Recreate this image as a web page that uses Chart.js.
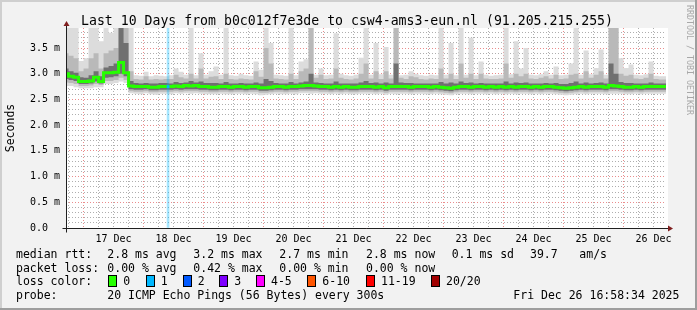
<!DOCTYPE html>
<html>
<head>
<meta charset="utf-8">
<script src="https://cdn.jsdelivr.net/npm/chart.js@4.4.1/dist/chart.umd.min.js"></script>
<style>
html,body{margin:0;padding:0;background:#f2f2f2;}
canvas{display:block;}
</style>
</head>
<body>
<canvas id="c" width="697" height="310"></canvas>
<script>
// ---------- DATA ----------
// time axis in hours since Dec 16 00:00
const T_START = 16.976;   // Dec 16 16:58:34
const T_END = 256.976;    // Dec 26 16:58:34
const SAMPLE_START = 17;  // first sample (hours)
const SAMPLE_STEP = 2;    // hours between samples
const Y_MAX = 3.89;       // ms

const dayLabels = ['17 Dec','18 Dec','19 Dec','20 Dec','21 Dec','22 Dec','23 Dec','24 Dec','25 Dec','26 Dec'];
const dayNoonHours = [36,60,84,108,132,156,180,204,228,252];
const yLabels = ['0.0  ','0.5 m','1.0 m','1.5 m','2.0 m','2.5 m','3.0 m','3.5 m'];

// median rtt (ms)
const medianRtt = [3.00,2.95,2.93,2.85,2.85,2.86,2.93,2.85,3.02,3.02,3.03,3.22,3.02,2.76,2.75,2.75,2.75,2.74,2.74,2.75,2.75,2.75,2.76,2.75,2.77,2.76,2.77,2.75,2.75,2.74,
 2.74,2.75,2.75,2.74,2.75,2.75,2.74,2.75,2.75,2.73,2.73,2.74,2.75,2.75,2.74,2.75,2.75,2.76,2.77,2.77,2.76,2.75,2.75,2.74,2.75,2.74,2.75,2.74,2.74,2.75,
 2.75,2.75,2.74,2.75,2.73,2.75,2.75,2.75,2.75,2.74,2.75,2.75,2.75,2.74,2.75,2.74,2.73,2.72,2.74,2.75,2.75,2.74,2.75,2.75,2.74,2.75,2.74,2.75,2.74,2.75,
 2.74,2.75,2.75,2.74,2.75,2.74,2.75,2.75,2.74,2.73,2.72,2.73,2.74,2.75,2.74,2.75,2.75,2.75,2.74,2.77,2.76,2.75,2.74,2.74,2.75,2.74,2.75,2.75,2.75,2.75,2.75];

// smoke: distribution of the 20 pings per sample (ms)
const pingMin = [2.76,2.76,2.74,2.72,2.72,2.72,2.74,2.74,2.80,2.80,2.82,2.85,2.82,2.62,
 2.61,2.60,2.62,2.60,2.59,2.61,2.61,2.60,2.62,2.61,2.62,2.61,2.62,2.61,2.60,2.60,
 2.60,2.61,2.60,2.60,2.61,2.61,2.60,2.61,2.60,2.58,2.59,2.60,2.61,2.60,2.60,2.61,2.60,2.62,2.62,2.61,2.62,2.61,2.61,2.60,2.61,2.60,2.61,2.60,2.60,2.61,
 2.61,2.61,2.60,2.61,2.59,2.61,2.60,2.61,2.61,2.60,2.61,2.61,2.60,2.60,2.61,2.60,2.59,2.58,2.60,2.61,2.61,2.60,2.61,2.61,2.60,2.61,2.60,2.61,2.60,2.61,
 2.60,2.61,2.61,2.60,2.61,2.60,2.61,2.61,2.60,2.59,2.58,2.59,2.60,2.61,2.60,2.61,2.61,2.61,2.60,2.61,2.61,2.61,2.60,2.60,2.61,2.60,2.61,2.61,2.61,2.61,2.61];
const ping10 = [2.83,2.82,2.80,2.76,2.76,2.77,2.80,2.78,2.86,2.86,2.88,2.92,2.88,2.66,
 2.65,2.65,2.66,2.64,2.64,2.65,2.65,2.65,2.66,2.65,2.66,2.66,2.66,2.65,2.65,2.64,
 2.64,2.65,2.65,2.64,2.65,2.65,2.64,2.65,2.65,2.63,2.63,2.64,2.65,2.65,2.64,2.65,2.65,2.66,2.66,2.66,2.66,2.65,2.65,2.64,2.65,2.64,2.65,2.64,2.64,2.65,
 2.65,2.65,2.64,2.65,2.63,2.65,2.65,2.65,2.65,2.64,2.65,2.65,2.65,2.64,2.65,2.64,2.63,2.62,2.64,2.65,2.65,2.64,2.65,2.65,2.64,2.65,2.64,2.65,2.64,2.65,
 2.64,2.65,2.65,2.64,2.65,2.64,2.65,2.65,2.64,2.63,2.62,2.63,2.64,2.65,2.64,2.65,2.65,2.65,2.64,2.66,2.66,2.65,2.64,2.64,2.65,2.64,2.65,2.65,2.65,2.65,2.65];
const ping25 = [2.90,2.88,2.86,2.80,2.80,2.81,2.85,2.81,2.92,2.93,2.95,3.00,2.95,2.70,
 2.69,2.69,2.70,2.68,2.68,2.69,2.69,2.69,2.70,2.69,2.70,2.70,2.70,2.69,2.69,2.68,
 2.68,2.69,2.69,2.68,2.69,2.69,2.68,2.69,2.69,2.67,2.67,2.68,2.69,2.69,2.68,2.69,2.69,2.70,2.70,2.70,2.70,2.69,2.69,2.68,2.69,2.68,2.69,2.68,2.68,2.69,
 2.69,2.69,2.68,2.69,2.67,2.69,2.69,2.69,2.69,2.68,2.69,2.69,2.69,2.68,2.69,2.68,2.67,2.66,2.68,2.69,2.69,2.68,2.69,2.69,2.68,2.69,2.68,2.69,2.68,2.69,
 2.68,2.69,2.69,2.68,2.69,2.68,2.69,2.69,2.68,2.67,2.66,2.67,2.68,2.69,2.68,2.69,2.69,2.69,2.68,2.70,2.70,2.69,2.68,2.68,2.69,2.68,2.69,2.69,2.69,2.69,2.69];
const ping75 = [3.10,3.05,3.02,2.93,2.92,2.97,3.05,2.95,3.12,3.15,3.20,3.89,3.60,2.86,
 2.82,2.81,2.82,2.81,2.81,2.82,2.82,2.81,2.84,2.82,2.83,2.86,2.83,2.85,2.82,2.82,
 2.82,2.81,2.84,2.81,2.81,2.82,2.81,2.81,2.83,2.81,2.90,2.86,2.82,2.81,2.81,2.84,2.81,2.83,2.85,3.00,2.83,2.82,2.81,2.81,2.85,2.81,2.81,2.81,2.81,2.83,
 2.86,2.82,2.83,2.81,2.83,2.81,3.20,2.83,2.82,2.82,2.81,2.81,2.81,2.81,2.81,2.84,2.81,2.83,2.81,2.85,2.82,2.83,2.81,2.82,2.81,2.81,2.81,2.81,2.85,2.81,
 2.83,2.82,2.83,2.81,2.81,2.81,2.82,2.81,2.82,2.80,2.80,2.82,2.85,2.81,2.83,2.81,2.82,2.83,2.81,3.20,3.00,2.84,2.82,2.82,2.81,2.81,2.81,2.83,2.81,2.81,2.81];
const ping90 = [3.40,3.35,3.30,3.05,3.10,3.30,3.40,3.10,3.40,3.45,3.50,3.89,3.89,3.05,
 2.90,2.89,2.95,2.89,2.90,2.89,2.90,2.90,2.98,2.93,2.91,3.00,2.91,3.10,2.91,2.94,
 2.95,2.90,3.00,2.90,2.89,2.91,2.90,2.89,3.05,2.94,3.50,3.20,2.91,2.90,2.89,3.00,2.90,3.05,3.10,3.89,2.92,2.98,2.90,2.91,3.10,2.92,2.90,2.89,2.91,3.00,
 3.20,2.91,3.05,2.90,3.05,2.91,3.89,2.92,2.90,2.95,2.93,2.90,2.89,2.91,2.90,3.10,2.91,3.00,2.90,3.20,2.92,3.00,2.90,3.00,2.91,2.90,2.90,2.91,3.20,2.92,
 3.00,2.95,3.00,2.91,2.90,2.92,2.95,2.91,2.98,2.90,2.91,2.98,3.00,2.91,3.05,2.92,2.98,3.05,2.91,3.89,3.89,3.00,2.96,2.98,2.91,2.90,2.92,3.00,2.90,2.89,2.89];
const pingMax = [3.89,3.89,3.89,3.25,3.30,3.89,3.89,3.63,3.89,3.80,3.89,3.89,3.89,3.89,
 2.97,2.96,3.04,2.95,2.97,2.96,2.95,2.97,3.10,3.04,2.98,3.89,2.97,3.40,2.98,3.05,
 3.14,2.98,3.89,2.97,2.96,3.00,2.97,2.96,3.24,3.08,3.89,3.60,2.98,2.97,2.96,3.89,2.97,3.24,3.28,3.89,2.98,3.10,2.97,2.98,3.79,3.00,2.97,2.96,2.98,3.31,
 3.89,2.98,3.60,2.99,3.52,2.98,3.89,2.97,2.98,3.05,3.00,2.97,2.96,2.98,2.97,3.89,2.98,3.60,2.97,3.89,2.98,3.70,2.97,3.24,2.98,2.96,2.97,2.98,3.89,2.99,
 3.63,3.10,3.50,2.98,2.97,2.99,3.05,2.98,3.14,2.97,2.98,3.20,3.89,2.98,3.45,2.99,3.11,3.47,2.98,3.89,3.89,3.30,3.11,3.18,2.98,2.97,2.99,3.24,2.96,2.95,2.95];

// packet-loss events
const lossTimes = [57.8];
const lossCounts = [1];
const lossMedian = [2.75];

// legend texts
const rttStats = ['2.8 ms avg','3.2 ms max','2.7 ms min','2.8 ms now','0.1 ms sd','39.7','am/s'];
const lossStats = ['0.00 % avg','0.42 % max','0.00 % min','0.00 % now'];
const lossBins = ['0','1','2','3','4-5','6-10','11-19','20/20'];
const lossColors = ['#26ff00','#00b8ff','#0059ff','#7e00ff','#ff00ff','#ff5500','#ff0000','#a10000'];
const titleText = 'Last 10 Days from b0c012f7e3de to csw4-ams3-eun.nl (91.205.215.255)';
const probeText = '20 ICMP Echo Pings (56 Bytes) every 300s';
const dateText = 'Fri Dec 26 16:58:34 2025';

// ---------- LAYOUT / STYLE ----------
const W = 697, H = 310;
const MONO = '"DejaVu Sans Mono", "Liberation Mono", monospace';
const MINOR = 'rgba(140,140,140,0.7)';
const MAJOR = 'rgba(222,79,79,0.65)';

const hours = medianRtt.map((_, i) => SAMPLE_START + i * SAMPLE_STEP);
const pts = arr => arr.map((v, i) => ({x: hours[i], y: v}));

function band(data, fill, color, order) {
  return {type: 'line', data: pts(data), fill: fill, backgroundColor: color,
    borderColor: 'transparent', borderWidth: 0, pointRadius: 0, stepped: 'middle', order: order};
}

const frame = {
  id: 'frame',
  beforeDraw(chart) {
    const {ctx, chartArea: a} = chart;
    ctx.save();
    ctx.fillStyle = '#f2f2f2'; ctx.fillRect(0, 0, W, H);
    ctx.fillStyle = '#cfcfcf'; ctx.fillRect(0, 0, W, 2); ctx.fillRect(0, 0, 2, H);
    ctx.fillStyle = '#9e9e9e'; ctx.fillRect(0, H - 2, W, 2); ctx.fillRect(W - 2, 0, 2, H);
    ctx.fillStyle = '#ffffff'; ctx.fillRect(a.left, a.top, a.right - a.left + 2, a.bottom - a.top);
    ctx.restore();
  },
  afterDraw(chart) {
    const {ctx, chartArea: a} = chart;
    const L = a.left + 0.5, B = a.bottom + 0.5, R = a.right, T = a.top;
    ctx.save();
    // axes
    ctx.strokeStyle = '#1f1f1f'; ctx.lineWidth = 1;
    ctx.beginPath();
    ctx.moveTo(L - 4, B); ctx.lineTo(R + 4, B);
    ctx.moveTo(L, B + 4); ctx.lineTo(L, T - 4);
    ctx.stroke();
    // arrows
    ctx.fillStyle = '#801f1f';
    ctx.beginPath(); ctx.moveTo(R + 2, B - 3); ctx.lineTo(R + 2, B + 3); ctx.lineTo(R + 7, B); ctx.closePath(); ctx.fill();
    ctx.beginPath(); ctx.moveTo(L - 3, T - 2); ctx.lineTo(L + 3, T - 2); ctx.lineTo(L, T - 7); ctx.closePath(); ctx.fill();
    // title
    ctx.fillStyle = '#000';
    ctx.font = '13.2px ' + MONO;
    ctx.textAlign = 'center'; ctx.textBaseline = 'alphabetic';
    ctx.fillText(titleText, 347, 24.5);
    // watermark
    ctx.save();
    ctx.translate(689, 5); ctx.rotate(Math.PI / 2);
    ctx.font = '8.3px ' + MONO; ctx.fillStyle = '#a8a8a8';
    ctx.textAlign = 'left'; ctx.textBaseline = 'middle';
    ctx.fillText('RRDTOOL / TOBI OETIKER', 0, 0);
    ctx.restore();
    // legend
    ctx.font = '11.5px ' + MONO; ctx.fillStyle = '#000';
    ctx.textAlign = 'left'; ctx.textBaseline = 'alphabetic';
    const y1 = 258, y2 = 271.5, y3 = 285, y4 = 298.5;
    ctx.fillText('median rtt:', 16, y1);
    const rttX = [107.3, 193.3, 279.3, 366, 451.7, 530, 579.3];
    rttStats.forEach((s, i) => ctx.fillText(s, rttX[i], y1));
    ctx.fillText('packet loss:', 16, y2);
    const lossX = [107.3, 193.3, 279.3, 366];
    lossStats.forEach((s, i) => ctx.fillText(s, lossX[i], y2));
    ctx.fillText('loss color:', 16, y3);
    const boxX = [108.3, 145.7, 182.7, 219.3, 256, 307.3, 366, 431];
    lossBins.forEach((s, i) => {
      const bx = Math.round(boxX[i]);
      ctx.fillStyle = lossColors[i];
      ctx.fillRect(bx, 275, 8, 11);
      ctx.strokeStyle = '#000'; ctx.lineWidth = 1;
      ctx.strokeRect(bx + 0.5, 275.5, 8, 11);
      ctx.fillStyle = '#000';
      ctx.fillText(s, boxX[i] + 15, y3);
    });
    ctx.fillText('probe:', 16, y4);
    ctx.fillText(probeText, 107.3, y4);
    ctx.fillText(dateText, 513.3, y4);
    ctx.restore();
  }
};

const xTickHours = [];
for (let h = Math.ceil(T_START / 6) * 6; h < T_END; h += 6) xTickHours.push(h);
const yTickVals = [];
for (let k = 0; k <= Math.floor(Y_MAX * 10); k++) yTickVals.push(k / 10);

new Chart(document.getElementById('c'), {
  type: 'line',
  data: {
    datasets: [
      band(pingMin, false, 'transparent', 10),
      band(pingMax, '-1', '#dcdcdc', 9),
      band(ping10, false, 'transparent', 8),
      band(ping90, '-1', '#b9b9b9', 7),
      band(ping25, false, 'transparent', 6),
      band(ping75, '-1', '#707070', 5),
      {type: 'bar', data: lossTimes.map(t => ({x: t, y: Y_MAX})), backgroundColor: 'rgba(0,184,255,0.35)',
        barThickness: 2, grouped: false, order: 3},
      {type: 'line', data: pts(medianRtt), borderColor: lossColors[0], borderWidth: 3, pointRadius: 0,
        stepped: 'middle', fill: false, order: 1},
      {type: 'line', data: lossTimes.map((t, i) => ({x: t, y: lossMedian[i]})), showLine: false,
        pointStyle: 'rect', pointRadius: 2, pointBorderWidth: 0,
        pointBackgroundColor: lossCounts.map(c => lossColors[c]), order: 0}
    ]
  },
  options: {
    responsive: false,
    animation: false,
    devicePixelRatio: 1,
    events: [],
    layout: {padding: {left: 0, right: 31, top: 28, bottom: 0}},
    plugins: {legend: {display: false}, tooltip: {enabled: false}, title: {display: false}},
    scales: {
      x: {
        type: 'linear', min: T_START, max: T_END, offset: false, z: 1,
        afterFit: s => { s.height = 82; },
        afterBuildTicks: s => { s.ticks = xTickHours.map(v => ({value: v})); },
        border: {display: false, dash: [1, 2]},
        grid: {offset: false, drawTicks: false, lineWidth: 1,
          color: c => (c.tick && c.tick.value % 24 === 0) ? MAJOR : MINOR},
        ticks: {autoSkip: false, maxRotation: 0, padding: 5, color: '#000',
          font: {family: MONO, size: 10},
          callback: v => { const k = dayNoonHours.indexOf(v); return k >= 0 ? dayLabels[k] : ''; }}
      },
      y: {
        type: 'linear', min: 0, max: Y_MAX, z: 1,
        afterFit: s => { s.width = 66; },
        afterBuildTicks: s => { s.ticks = yTickVals.map(v => ({value: v})); },
        border: {display: false, dash: [1, 2]},
        grid: {drawTicks: false, lineWidth: 1,
          color: c => (c.tick && Math.round(c.tick.value * 10) % 5 === 0) ? MAJOR : MINOR},
        ticks: {autoSkip: false, padding: 6, color: '#000', font: {family: MONO, size: 10},
          callback: v => { const k = Math.round(v * 10); return k % 5 === 0 ? yLabels[k / 5] : ''; }},
        title: {display: true, text: 'Seconds', color: '#000', font: {family: MONO, size: 11.5},
          padding: {top: 4, bottom: 0}}
      }
    }
  },
  plugins: [frame]
});
</script>
</body>
</html>
